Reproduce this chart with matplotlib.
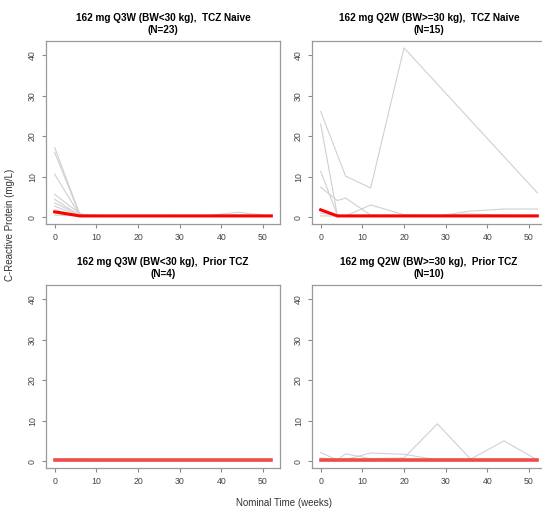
import numpy as np
import matplotlib.pyplot as plt

plt.rcParams['font.family'] = ['Liberation Sans', 'DejaVu Sans']

nan = np.nan

# Nominal visit weeks
weeks_q3w = [0, 6, 8, 12, 20, 28, 36, 44, 52]
weeks_q2w = [0, 4, 6, 12, 20, 28, 36, 44, 52]

titles = ["162 mg Q3W (BW<30 kg),  TCZ Naive\n(N=23)",
          "162 mg Q2W (BW>=30 kg),  TCZ Naive\n(N=15)",
          "162 mg Q3W (BW<30 kg),  Prior TCZ\n(N=4)",
          "162 mg Q2W (BW>=30 kg),  Prior TCZ\n(N=10)"]

# individual CRP profiles (mg/L), nan = missed visit
tl_subjects = [
    [17.2, 0.8, 0.3, 0.3, 0.3, 0.3, 0.4, 0.4, 0.3],
    [16.0, 0.6, 0.3, 0.3, 0.3, 0.4, 0.3, 1.2, 0.3],
    [10.6, 0.5, 0.3, 0.3, 0.3, 0.3, 0.3, 0.3, 0.3],
    [5.6, 0.9, 0.4, 0.3, 0.3, 0.3, 0.3, 0.6, 0.3],
    [4.4, 0.4, 0.3, 0.3, 0.3, 0.3, 0.3, 0.3, 0.3],
    [3.5, 0.5, 0.6, 0.3, 0.3, 0.3, 0.3, 0.3, 0.3],
    [2.7, 0.3, 0.3, 0.3, 0.4, 0.3, 0.3, 0.3, 0.3],
    [1.8, 0.3, 0.3, 0.3, 0.3, 0.3, 0.3, 0.3, 0.3],
    [1.0, 0.3, 0.3, 0.3, 0.3, 0.3, 0.3, 0.3, 0.3],
    [0.5, 0.3, 0.3, 0.3, 0.3, 0.3, 0.3, 0.3, 0.3],
]
tr_subjects = [
    [26.1, nan, 10.1, 7.2, 41.8, nan, nan, nan, 6.0],
    [23.0, 0.5, 0.3, 0.3, 0.3, 0.3, 0.3, 0.3, 0.3],
    [11.3, 0.5, 0.3, 0.4, 0.3, 0.3, 0.3, 0.3, 0.3],
    [7.4, 4.1, 4.7, 0.5, 0.4, 0.3, 1.5, 2.0, 2.0],
    [0.3, 0.3, 0.3, 3.0, 0.6, 0.5, 0.8, 0.5, 0.4],
    [1.0, 0.3, 0.3, 0.3, 0.3, 0.3, 0.3, 0.3, 0.3],
]
bl_subjects = [
    [0.2, 0.3, 0.2, 0.2, 0.2, 0.2, 0.3, 0.2, 0.2],
    [0.2, 0.2, 0.2, 0.2, 0.2, 0.3, 0.2, 0.3, 0.2],
    [0.1, 0.2, 0.1, 0.1, 0.1, 0.1, 0.1, 0.1, 0.1],
    [0.2, 0.2, 0.2, 0.2, 0.2, 0.2, 0.2, 0.2, 0.2],
]
br_subjects = [
    [2.1, 0.3, 1.8, 0.6, 0.8, 9.2, 0.5, 5.0, 0.3],
    [0.8, 0.3, 0.4, 2.0, 1.7, 0.3, 0.3, 0.3, 0.3],
    [0.3, 0.3, 0.5, 0.3, 0.3, 0.3, 0.3, 0.3, 0.3],
    [0.2, 0.2, 0.2, 0.2, 0.2, 0.2, 0.2, 0.2, 0.2],
]

# mean profiles
tl_mean = [1.3, 0.3, 0.3, 0.3, 0.3, 0.3, 0.3, 0.3, 0.3]
tr_mean = [1.8, 0.3, 0.3, 0.3, 0.3, 0.3, 0.3, 0.3, 0.3]
bl_mean = [0.2, 0.2, 0.2, 0.2, 0.2, 0.2, 0.2, 0.2, 0.2]
br_mean = [0.2, 0.2, 0.2, 0.2, 0.2, 0.2, 0.2, 0.2, 0.2]

panels = [
    (weeks_q3w, tl_subjects, tl_mean, '#ff0000', 2.2, [46, 41]),
    (weeks_q2w, tr_subjects, tr_mean, '#ff0000', 2.2, [312, 41]),
    (weeks_q3w, bl_subjects, bl_mean, '#f24a4a', 2.6, [46, 285]),
    (weeks_q2w, br_subjects, br_mean, '#f24a4a', 2.6, [312, 285]),
]

W, H = 542, 511
fig = plt.figure(figsize=(W / 100, H / 100), dpi=100)

for (wk, subj, mean, col, lw, (px, py)), title in zip(panels, titles):
    pw, ph = 234, 183
    ax = fig.add_axes([px / W, 1 - (py + ph) / H, pw / W, ph / H])
    wk = np.array(wk)
    for s in subj:
        s = np.array(s)
        ok = ~np.isnan(s)
        ax.plot(wk[ok], s[ok], color='#d0d0d0', lw=0.8)
    ax.plot(wk, mean, color=col, lw=lw)
    ax.set_xlim(-2.08, 54.08)
    ax.set_ylim(-1.7, 43.5)
    ax.set_xticks([0, 10, 20, 30, 40, 50])
    ax.set_yticks([0, 10, 20, 30, 40])
    ax.tick_params(colors='#888888', labelcolor='#444444', labelsize=6.3,
                   length=3, width=0.8)
    for lab in ax.get_yticklabels():
        lab.set_rotation(90)
        lab.set_va('center')
    for sp in ax.spines.values():
        sp.set_color('#999999')
        sp.set_linewidth(0.9)
    ax.set_title(title, fontsize=7.2, fontweight='bold', pad=6, linespacing=1.2)

fig.text(10 / W, 1 - 225 / H, 'C-Reactive Protein (mg/L)', rotation=90,
         ha='center', va='center', fontsize=7, color='#333333')
fig.text(284 / W, 1 - 503 / H, 'Nominal Time (weeks)',
         ha='center', va='center', fontsize=7, color='#333333')

fig.savefig('out.png', dpi=100)
